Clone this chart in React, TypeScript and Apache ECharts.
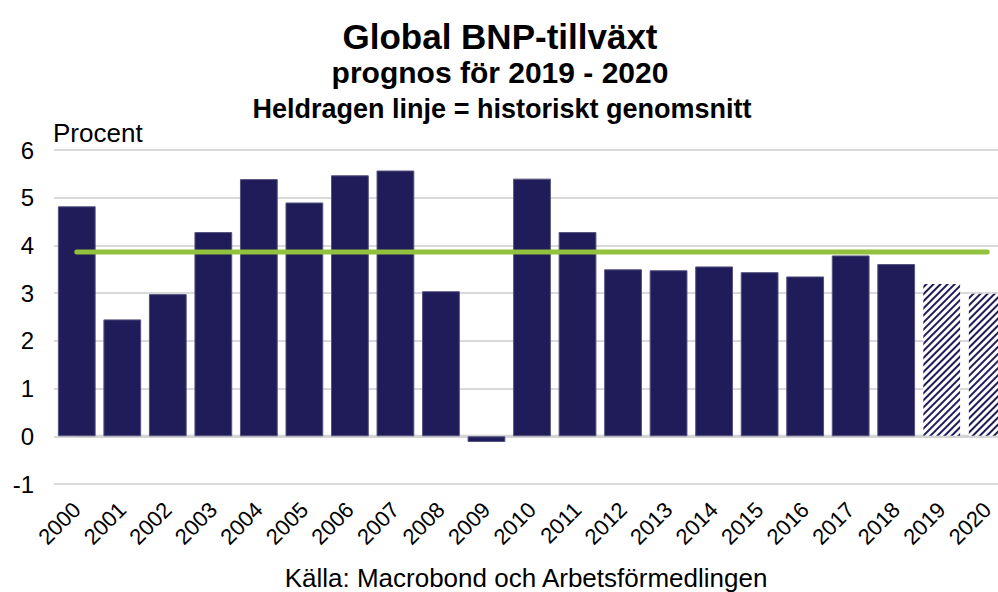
import React, { useEffect, useRef } from "react";
import * as echarts from "echarts";

const years = ["2000","2001","2002","2003","2004","2005","2006","2007","2008","2009","2010","2011","2012","2013","2014","2015","2016","2017","2018","2019","2020"];
const growth = [4.82, 2.45, 2.98, 4.28, 5.39, 4.9, 5.47, 5.57, 3.04, -0.12, 5.4, 4.28, 3.5, 3.48, 3.56, 3.44, 3.35, 3.79, 3.61, 3.2, 3.0];
const forecastYears = ["2019", "2020"];
const historicalAverage = 3.86;

const NAVY = "#201c5a";
const FONT = "Liberation Sans, Arial, sans-serif";

export default function App() {
  const ref = useRef<HTMLDivElement>(null);
  useEffect(() => {
    document.body.style.margin = "0";
    const chart = echarts.init(ref.current!, null, { renderer: "svg" });
    const barData = years.map((y, i) => {
      if (forecastYears.includes(y)) {
        return {
          value: growth[i],
          itemStyle: {
            color: "#ffffff",
            borderColor: "transparent",
            decal: {
              symbol: "rect",
              color: NAVY,
              dashArrayX: [1, 0],
              dashArrayY: [1.5, 3],
              rotation: -Math.PI / 4,
              symbolSize: 1,
            },
          },
        };
      }
      return { value: growth[i] };
    });
    chart.setOption({
      animation: false,
      textStyle: { fontFamily: FONT },
      graphic: [
        { type: "text", x: 500, y: 36, style: { text: "Global BNP-tillväxt", font: `bold 35px ${FONT}`, fill: "#000", textAlign: "center", textVerticalAlign: "middle" } },
        { type: "text", x: 500, y: 72.5, style: { text: "prognos för 2019 - 2020", font: `bold 30px ${FONT}`, fill: "#000", textAlign: "center", textVerticalAlign: "middle" } },
        { type: "text", x: 502, y: 108.5, style: { text: "Heldragen linje = historiskt genomsnitt", font: `bold 27px ${FONT}`, fill: "#000", textAlign: "center", textVerticalAlign: "middle" } },
        { type: "text", x: 53, y: 132.5, style: { text: "Procent", font: `26px ${FONT}`, fill: "#000", textVerticalAlign: "middle" } },
        { type: "text", x: 526, y: 577.5, style: { text: "Källa: Macrobond och Arbetsförmedlingen", font: `26px ${FONT}`, fill: "#000", textAlign: "center", textVerticalAlign: "middle" } },
      ],
      grid: { left: 54, top: 150, width: 956, height: 334, containLabel: false },
      xAxis: {
        type: "category",
        data: years,
        axisLine: { show: false },
        axisTick: { show: false },
        axisLabel: { rotate: 45, fontSize: 22, color: "#000", fontFamily: FONT, margin: 22, interval: 0 },
      },
      yAxis: {
        type: "value",
        min: -1,
        max: 6,
        interval: 1,
        axisLine: { show: false },
        axisTick: { show: false },
        axisLabel: { fontSize: 24, color: "#000", fontFamily: FONT, margin: 20 },
        splitLine: { lineStyle: { color: "#d9d9d9", width: 2 } },
      },
      series: [
        {
          type: "bar",
          data: barData,
          barWidth: "83%",
          itemStyle: { color: NAVY, borderColor: "#55527f", borderWidth: 1 },
          z: 2,
        },
        {
          type: "line",
          data: years.map(() => historicalAverage),
          symbol: "none",
          lineStyle: { color: "#92c13e", width: 5, cap: "round" },
          z: 3,
        },
        {
          type: "line",
          data: years.map(() => 0),
          symbol: "none",
          lineStyle: { color: "#d4d4d4", width: 3 },
          z: 1,
          silent: true,
        },
      ],
    });
    return () => chart.dispose();
  }, []);
  return (
    <div style={{ width: 998, height: 592, overflow: "hidden", position: "relative" }}>
      <div ref={ref} style={{ width: 1012, height: 592 }} />
    </div>
  );
}
